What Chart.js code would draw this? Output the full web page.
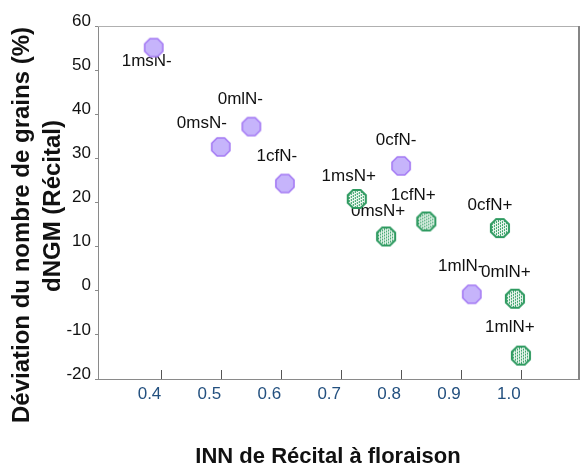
<!DOCTYPE html>
<html>
<head>
<meta charset="utf-8">
<script src="https://cdn.jsdelivr.net/npm/chart.js@4.4.1/dist/chart.umd.min.js"></script>
<style>
  html, body { margin: 0; padding: 0; background: #ffffff; }
  #c { display: block; }
</style>
</head>
<body>
<canvas id="c" width="584" height="465"></canvas>
<script>
// ---- data ----
const namesNminus = ['1msN-', '0mlN-', '0msN-', '1cfN-', '0cfN-', '1mlN-'];
const xNminus = [0.387, 0.550, 0.499, 0.606, 0.800, 0.918];
const yNminus = [55.1, 37.2, 32.6, 24.3, 28.3, -0.8];

const namesNplus = ['1msN+', '0msN+', '1cfN+', '0cfN+', '0mlN+', '1mlN+'];
const xNplus = [0.726, 0.775, 0.842, 0.965, 0.990, 1.000];
const yNplus = [20.8, 12.3, 15.7, 14.2, -1.8, -14.7];

const xTicks = [0.4, 0.5, 0.6, 0.7, 0.8, 0.9, 1.0];
const yTicks = [-20, -10, 0, 10, 20, 30, 40, 50, 60];

const xTitle = 'INN de Récital à floraison';
const yTitleLines = ['Déviation du nombre de grains (%)', 'dNGM (Récital)'];

// label placement (pixels relative to marker centre)
const offNminus = [[-7, 14], [-11, -27], [-19, -24], [-8, -27], [-5, -26], [-11, -28]];
const offNplus = [[-8, -23], [-8, -25], [-13, -26], [-10, -23], [-9, -26], [-11, -28]];

// ---- marker images ----
function octPath(ctx, cx, cy, r) {
  ctx.beginPath();
  for (let k = 0; k < 8; k++) {
    const a = Math.PI / 8 + k * Math.PI / 4;
    const px = cx + r * Math.cos(a), py = cy + r * Math.sin(a);
    if (k === 0) ctx.moveTo(px, py); else ctx.lineTo(px, py);
  }
  ctx.closePath();
}
function makeMarker(kind) {
  const s = 22;
  const cv = document.createElement('canvas');
  cv.width = s; cv.height = s;
  const ctx = cv.getContext('2d');
  const c = s / 2, r = 9.8;
  if (kind === 'purple') {
    octPath(ctx, c, c, r);
    ctx.fillStyle = '#c6b4fb';
    ctx.fill();
    ctx.lineWidth = 1.6;
    ctx.strokeStyle = '#a47af4';
    ctx.stroke();
  } else {
    octPath(ctx, c, c, r);
    ctx.fillStyle = '#eef8f1';
    ctx.fill();
    ctx.save();
    octPath(ctx, c, c, r - 1);
    ctx.clip();
    ctx.fillStyle = '#35a066';
    for (let i = 0; i < s; i += 2) {
      for (let j = 0; j < s; j++) {
        if ((j + (i / 2)) % 3 !== 0) ctx.fillRect(i + 1, j, 1, 1);
      }
    }
    ctx.restore();
    octPath(ctx, c, c, r);
    ctx.lineWidth = 2;
    ctx.strokeStyle = '#2e9a60';
    ctx.stroke();
  }
  return cv;
}
const purpleMarker = makeMarker('purple');
const greenMarker = makeMarker('green');

const ptsNminus = xNminus.map((x, i) => ({ x: x, y: yNminus[i] }));
const ptsNplus = xNplus.map((x, i) => ({ x: x, y: yNplus[i] }));

// ---- plugin: frame, inward x ticks, point labels, axis titles ----
const decor = {
  id: 'decor',
  beforeDatasetsDraw(chart) {
    const ctx = chart.ctx;
    const sets = [[namesNminus, offNminus], [namesNplus, offNplus]];
    ctx.save();
    ctx.font = '17px "Liberation Sans", Arial, sans-serif';
    ctx.fillStyle = '#111111';
    ctx.textAlign = 'center';
    ctx.textBaseline = 'middle';
    sets.forEach((pair, di) => {
      const meta = chart.getDatasetMeta(di);
      meta.data.forEach((el, i) => {
        ctx.fillText(pair[0][i], el.x + pair[1][i][0], el.y + pair[1][i][1]);
      });
    });
    ctx.restore();
  },
  afterDraw(chart) {
    const ctx = chart.ctx;
    const a = chart.chartArea;
    const xs = chart.scales.x;
    ctx.save();
    // frame
    ctx.lineWidth = 1;
    ctx.strokeStyle = '#b0b0b0';
    ctx.beginPath(); ctx.moveTo(a.left, a.top + 0.5); ctx.lineTo(a.right, a.top + 0.5); ctx.stroke();
    ctx.lineWidth = 2;
    ctx.strokeStyle = '#858585';
    ctx.beginPath(); ctx.moveTo(a.right, a.top); ctx.lineTo(a.right, a.bottom); ctx.stroke();
    // inward ticks on x axis
    ctx.lineWidth = 1;
    ctx.strokeStyle = '#555555';
    xTicks.forEach(v => {
      const px = Math.round(xs.getPixelForValue(v)) + 0.5;
      ctx.beginPath(); ctx.moveTo(px, a.bottom - 9); ctx.lineTo(px, a.bottom); ctx.stroke();
    });
    // x title
    ctx.fillStyle = '#111111';
    ctx.font = 'bold 22px "Liberation Sans", Arial, sans-serif';
    ctx.textAlign = 'center';
    ctx.textBaseline = 'alphabetic';
    ctx.fillText(xTitle, 328, 463);
    // y title
    ctx.font = 'bold 24px "Liberation Sans", Arial, sans-serif';
    ctx.translate(29, 225);
    ctx.rotate(-Math.PI / 2);
    ctx.fillText(yTitleLines[0], 0, 0);
    ctx.rotate(Math.PI / 2);
    ctx.translate(-29, -225);
    ctx.translate(60, 206);
    ctx.rotate(-Math.PI / 2);
    ctx.fillText(yTitleLines[1], 0, 0);
    ctx.restore();
  }
};

new Chart(document.getElementById('c'), {
  type: 'scatter',
  data: {
    datasets: [
      { label: 'N-', data: ptsNminus, pointStyle: purpleMarker, pointRadius: 10, pointHoverRadius: 10 },
      { label: 'N+', data: ptsNplus, pointStyle: greenMarker, pointRadius: 10, pointHoverRadius: 10 }
    ]
  },
  options: {
    responsive: false,
    animation: false,
    devicePixelRatio: 1,
    layout: { autoPadding: false, padding: { top: 26, right: 5, left: 0, bottom: 0 } },
    plugins: { legend: { display: false }, tooltip: { enabled: false } },
    scales: {
      x: {
        type: 'linear',
        min: 0.294,
        max: 1.097,
        afterBuildTicks: s => { s.ticks = xTicks.map(v => ({ value: v })); },
        afterFit: s => { s.height = 86; s.paddingLeft = 0; s.paddingRight = 0; },
        ticks: {
          callback: v => Number(v).toFixed(1),
          labelOffset: -12,
          padding: 5,
          autoSkip: false,
          maxRotation: 0,
          color: '#23507f',
          font: { family: '"Liberation Sans", Arial, sans-serif', size: 17 }
        },
        grid: { drawOnChartArea: false, drawTicks: false },
        border: { display: true, color: '#8a8a8a', width: 1 }
      },
      y: {
        type: 'linear',
        min: -20,
        max: 60,
        afterBuildTicks: s => { s.ticks = yTicks.map(v => ({ value: v })); },
        afterFit: s => { s.width = 98; s.paddingTop = 0; s.paddingBottom = 0; },
        ticks: {
          labelOffset: -5,
          padding: 4,
          color: '#111111',
          font: { family: '"Liberation Sans", Arial, sans-serif', size: 17 }
        },
        grid: { drawOnChartArea: false, drawTicks: true, tickLength: 3, color: '#8a8a8a' },
        border: { display: true, color: '#8a8a8a', width: 1 }
      }
    }
  },
  plugins: [decor]
});
</script>
</body>
</html>
